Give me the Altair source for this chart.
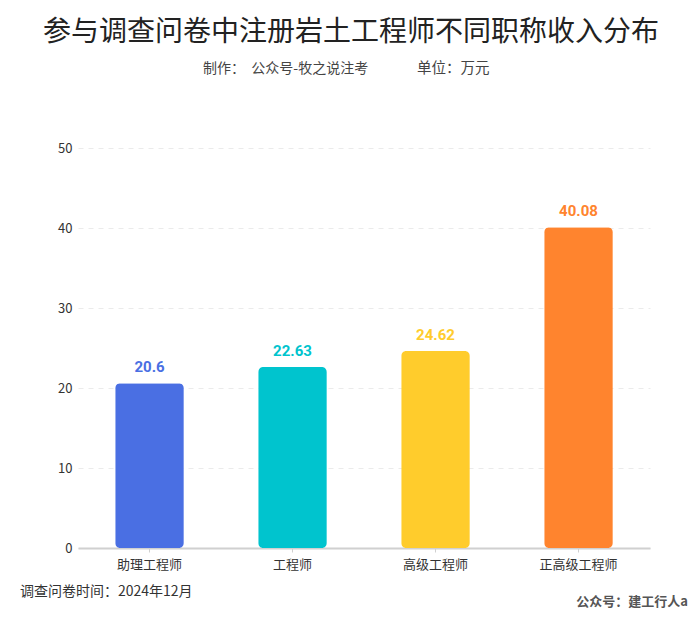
import altair as alt
import pandas as pd

categories = ["助理工程师", "工程师", "高级工程师", "正高级工程师"]
values = [20.6, 22.63, 24.62, 40.08]
colors = ["#4A6FE3", "#00C4CE", "#FFCC2C", "#FF842E"]
y_ticks = [0, 10, 20, 30, 40, 50]

title_text = "参与调查问卷中注册岩土工程师不同职称收入分布"
subtitle_a = "制作：\u00a0\u00a0公众号-牧之说注考"
subtitle_b = "单位：万元"
note_left = "调查问卷时间：2024年12月"
note_right = "公众号：建工行人a"

df = pd.DataFrame({"cat": categories, "val": values, "color": colors})
FONT = "Noto Sans CJK SC"

x_enc = alt.X("cat:N", sort=categories, title=None,
              scale=alt.Scale(paddingInner=0.52, paddingOuter=0.26),
              axis=alt.Axis(labelAngle=0, labelFont=FONT, labelFontSize=13,
                            labelColor="#333", labelPadding=6, domainColor="#d0d0d0",
                            domainWidth=2, tickColor="#d0d0d0", tickSize=4, grid=False))
y_enc = alt.Y("val:Q", title=None,
              scale=alt.Scale(domain=[0, 50], nice=False),
              axis=alt.Axis(values=y_ticks, labelFont=FONT, labelFontSize=13,
                            labelColor="#333", labelPadding=6, domain=False, ticks=False,
                            grid=True, gridColor="#ebebeb", gridDash=[5, 5], gridWidth=1))

base = alt.Chart(df)
bars = base.mark_bar(cornerRadius=5).encode(
    x=x_enc, y=y_enc,
    color=alt.Color("color:N", scale=None),
)
labels = base.mark_text(baseline="bottom", dy=-8, font="Roboto", fontSize=15,
                        fontWeight="bold").encode(
    x=alt.X("cat:N", sort=categories),
    y="val:Q",
    text=alt.Text("val:Q"),
    color=alt.Color("color:N", scale=None),
)


def label(text, x, y, size, color, align="left", weight="normal"):
    return alt.Chart(pd.DataFrame({"t": [text]})).mark_text(
        font=FONT, fontSize=size, color=color, baseline="middle", align=align,
        fontWeight=weight).encode(x=alt.value(x), y=alt.value(y), text="t:N")


title = label(title_text, 273, -115, 28, "#222", align="center")
sub_a = label(subtitle_a, 125, -79, 14, "#444")
sub_b = label(subtitle_b, 339, -79, 14.5, "#444")
n1 = label(note_left, -58, 444, 14, "#333")
n2 = label(note_right, 610, 454, 13, "#555", align="right", weight="bold")

chart = alt.layer(bars, labels, title, sub_a, sub_b, n1, n2).properties(
    width=572, height=400,
    background="white",
    autosize=alt.AutoSizeParams(type="none"),
    padding={"left": 70, "top": 140, "right": 42, "bottom": 62},
).configure_view(strokeWidth=0, stroke=None)

chart.save("out.html", embed_options={"renderer": "svg", "actions": False})
